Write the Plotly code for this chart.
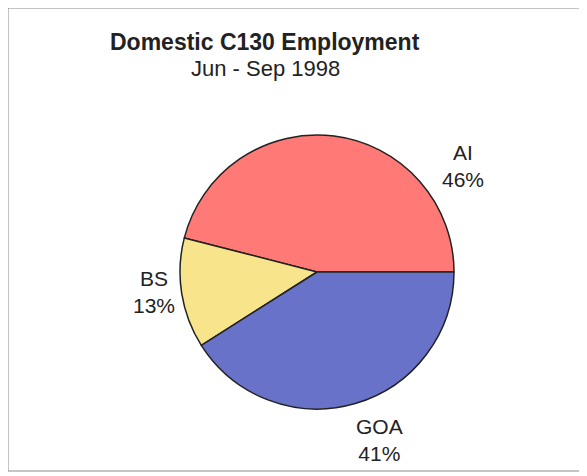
import plotly.graph_objects as go

# data
regions = ["AI", "BS", "GOA"]
shares = [46, 13, 41]
colors = ["#FF7A76", "#F8E48A", "#6872C8"]

# label spots (window px), placed like the original printout
label_pos = {"AI": (463, 166), "BS": (154, 292), "GOA": (379, 440)}

W, H = 587, 476
OFF = 8  # page body margin
cx, cy, r = 317 - OFF, 272 - OFF, 137


def px(x):
    return (x - OFF) / W


def py(y):
    return 1 - (y - OFF) / H


# first slice (AI) should run from 3 o'clock up and round counterclockwise
first_end = 90 - 360 * shares[0] / sum(shares)

fig = go.Figure()
fig.add_trace(go.Pie(
    labels=regions, values=shares, sort=False,
    direction="counterclockwise", rotation=first_end,
    marker=dict(colors=colors, line=dict(color="#222222", width=1.5)),
    textinfo="none", hoverinfo="label+percent",
    domain=dict(x=[(cx - r) / W, (cx + r) / W], y=[(H - cy - r) / H, (H - cy + r) / H]),
    showlegend=False,
))

for name, val in zip(regions, shares):
    x, y = label_pos[name]
    fig.add_annotation(x=px(x), y=py(y), xref="paper", yref="paper",
                       xanchor="center", yanchor="middle",
                       text=f"{name}<br>{val}%", showarrow=False,
                       font=dict(size=21, color="#222222", family="Liberation Sans, Arial"),
                       align="center")

fig.add_annotation(x=px(265), y=py(42), xref="paper", yref="paper",
                   xanchor="center", yanchor="middle",
                   text="<b>Domestic C130 Employment</b>", showarrow=False,
                   font=dict(size=23, color="#222222", family="Liberation Sans, Arial"))
fig.add_annotation(x=px(265), y=py(69), xref="paper", yref="paper",
                   xanchor="center", yanchor="middle",
                   text="Jun - Sep 1998", showarrow=False,
                   font=dict(size=22, color="#222222", family="Liberation Sans, Arial"))

# outer frame
fig.add_shape(type="rect", xref="paper", yref="paper",
              x0=px(8), x1=px(584), y0=py(471), y1=py(8),
              line=dict(color="#8a8a8a", width=1))

fig.update_layout(width=W, height=H, margin=dict(l=0, r=0, t=0, b=0),
                  paper_bgcolor="white", plot_bgcolor="white")

fig.write_html("out.html")
